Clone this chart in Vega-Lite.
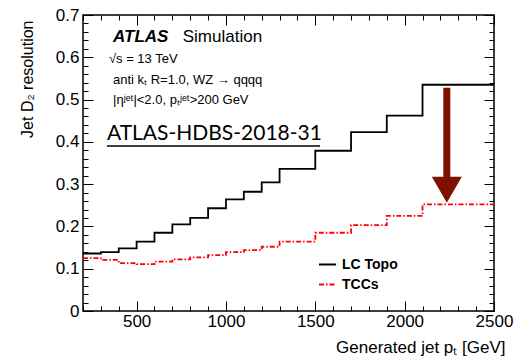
{
  "$schema": "https://vega.github.io/schema/vega-lite/v6.json",
  "width": 411,
  "height": 296,
  "autosize": {"type": "none"},
  "padding": {"left": 83, "top": 15, "right": 20, "bottom": 53},
  "background": "white",
  "config": {
    "view": {"stroke": "black", "strokeWidth": 1.5},
    "font": "Liberation Sans",
    "axis": {"grid": false, "domain": false, "tickColor": "black", "tickWidth": 1, "labelColor": "black", "titleColor": "black", "labelFont": "Liberation Sans", "titleFont": "Liberation Sans", "titleFontWeight": "normal"}
  },
  "datasets": {
    "curves": [
      {"pt": 200, "res": 0.136, "algo": "LC Topo"},
      {"pt": 300, "res": 0.139, "algo": "LC Topo"},
      {"pt": 400, "res": 0.148, "algo": "LC Topo"},
      {"pt": 500, "res": 0.164, "algo": "LC Topo"},
      {"pt": 600, "res": 0.185, "algo": "LC Topo"},
      {"pt": 700, "res": 0.205, "algo": "LC Topo"},
      {"pt": 800, "res": 0.220, "algo": "LC Topo"},
      {"pt": 900, "res": 0.243, "algo": "LC Topo"},
      {"pt": 1000, "res": 0.264, "algo": "LC Topo"},
      {"pt": 1100, "res": 0.282, "algo": "LC Topo"},
      {"pt": 1200, "res": 0.304, "algo": "LC Topo"},
      {"pt": 1300, "res": 0.336, "algo": "LC Topo"},
      {"pt": 1500, "res": 0.379, "algo": "LC Topo"},
      {"pt": 1700, "res": 0.423, "algo": "LC Topo"},
      {"pt": 1900, "res": 0.462, "algo": "LC Topo"},
      {"pt": 2100, "res": 0.535, "algo": "LC Topo"},
      {"pt": 2500, "res": 0.535, "algo": "LC Topo"},
      {"pt": 200, "res": 0.125, "algo": "TCCs"},
      {"pt": 300, "res": 0.121, "algo": "TCCs"},
      {"pt": 400, "res": 0.113, "algo": "TCCs"},
      {"pt": 500, "res": 0.111, "algo": "TCCs"},
      {"pt": 600, "res": 0.117, "algo": "TCCs"},
      {"pt": 700, "res": 0.122, "algo": "TCCs"},
      {"pt": 800, "res": 0.127, "algo": "TCCs"},
      {"pt": 900, "res": 0.132, "algo": "TCCs"},
      {"pt": 1000, "res": 0.139, "algo": "TCCs"},
      {"pt": 1100, "res": 0.144, "algo": "TCCs"},
      {"pt": 1200, "res": 0.152, "algo": "TCCs"},
      {"pt": 1300, "res": 0.164, "algo": "TCCs"},
      {"pt": 1500, "res": 0.185, "algo": "TCCs"},
      {"pt": 1700, "res": 0.203, "algo": "TCCs"},
      {"pt": 1900, "res": 0.225, "algo": "TCCs"},
      {"pt": 2100, "res": 0.252, "algo": "TCCs"},
      {"pt": 2500, "res": 0.252, "algo": "TCCs"}
    ]
  },
  "layer": [
    {
      "data": {"name": "curves"},
      "mark": {"type": "line", "interpolate": "step-after", "strokeWidth": 1.8},
      "encoding": {
        "x": {
          "field": "pt", "type": "quantitative",
          "scale": {"domain": [200, 2500], "nice": false, "zero": false},
          "axis": {
            "orient": "bottom",
            "values": [200, 300, 400, 500, 600, 700, 800, 900, 1000, 1100, 1200, 1300, 1400, 1500, 1600, 1700, 1800, 1900, 2000, 2100, 2200, 2300, 2400, 2500],
            "tickSize": {"condition": {"test": "datum.value % 500 === 0", "value": -10}, "value": -5},
            "labelExpr": "datum.value % 500 === 0 ? format(datum.value, 'd') : ''",
            "labelFlush": false,
            "labelFontSize": 17,
            "labelPadding": 12,
            "title": "Generated jet pₜ [GeV]",
            "titleFontSize": 17,
            "titleAnchor": "end",
            "titleAlign": "right",
            "titleX": 422,
            "titleY": 41,
            "titleBaseline": "alphabetic"
          }
        },
        "y": {
          "field": "res", "type": "quantitative",
          "scale": {"domain": [0, 0.7], "nice": false, "zero": false},
          "axis": {
            "orient": "left",
            "values": [0, 0.02, 0.04, 0.06, 0.08, 0.1, 0.12, 0.14, 0.16, 0.18, 0.2, 0.22, 0.24, 0.26, 0.28, 0.3, 0.32, 0.34, 0.36, 0.38, 0.4, 0.42, 0.44, 0.46, 0.48, 0.5, 0.52, 0.54, 0.56, 0.58, 0.6, 0.62, 0.64, 0.66, 0.68, 0.7],
            "tickSize": {"condition": {"test": "abs(datum.value*10 - round(datum.value*10)) < 0.000001", "value": -10}, "value": -5},
            "labelExpr": "abs(datum.value*10 - round(datum.value*10)) < 0.000001 ? format(datum.value, '.1~f') : ''",
            "labelFlush": false,
            "labelFontSize": 17,
            "labelPadding": 14,
            "title": "Jet D₂ resolution",
            "titleFontSize": 16,
            "titleAngle": -90,
            "titleAlign": "right",
            "titleBaseline": "alphabetic",
            "titleX": -51,
            "titleY": 5
          }
        },
        "color": {
          "field": "algo", "type": "nominal",
          "scale": {"domain": ["LC Topo", "TCCs"], "range": ["#000000", "#ff0000"]},
          "legend": {"orient": "none", "legendX": 235, "legendY": 240, "title": null, "symbolType": "stroke", "symbolSize": 289, "symbolStrokeWidth": 1.8, "labelFont": "Liberation Sans", "labelFontWeight": "bold", "labelFontSize": 14, "labelColor": "black", "rowPadding": 3, "labelOffset": 5, "padding": 0}
        },
        "strokeDash": {
          "field": "algo", "type": "nominal",
          "scale": {"domain": ["LC Topo", "TCCs"], "range": [[1, 0], [5, 2, 1.5, 2]]},
          "legend": {"orient": "none", "legendX": 235, "legendY": 240, "title": null, "symbolType": "stroke", "symbolSize": 289, "symbolStrokeWidth": 1.8, "labelFont": "Liberation Sans", "labelFontWeight": "bold", "labelFontSize": 14, "labelColor": "black", "rowPadding": 3, "labelOffset": 5, "padding": 0}
        }
      }
    },
    {
      "data": {"name": "curves"},
      "mark": {"type": "line", "opacity": 0},
      "encoding": {
        "x": {
          "field": "pt", "type": "quantitative",
          "scale": {"domain": [200, 2500], "nice": false, "zero": false},
          "axis": {
            "orient": "top",
            "values": [200, 300, 400, 500, 600, 700, 800, 900, 1000, 1100, 1200, 1300, 1400, 1500, 1600, 1700, 1800, 1900, 2000, 2100, 2200, 2300, 2400, 2500],
            "tickSize": {"condition": {"test": "datum.value % 500 === 0", "value": -10}, "value": -5},
            "labels": false,
            "title": null
          }
        },
        "y": {
          "field": "res", "type": "quantitative",
          "scale": {"domain": [0, 0.7], "nice": false, "zero": false},
          "axis": {
            "orient": "right",
            "values": [0, 0.02, 0.04, 0.06, 0.08, 0.1, 0.12, 0.14, 0.16, 0.18, 0.2, 0.22, 0.24, 0.26, 0.28, 0.3, 0.32, 0.34, 0.36, 0.38, 0.4, 0.42, 0.44, 0.46, 0.48, 0.5, 0.52, 0.54, 0.56, 0.58, 0.6, 0.62, 0.64, 0.66, 0.68, 0.7],
            "tickSize": {"condition": {"test": "abs(datum.value*10 - round(datum.value*10)) < 0.000001", "value": -10}, "value": -5},
            "labels": false,
            "title": null
          }
        }
      }
    },
    {
      "data": {"values": [{"pt": 2236, "top": 0.528, "bot": 0.305}]},
      "mark": {"type": "rule", "color": "#7e1200", "strokeWidth": 7},
      "encoding": {
        "x": {"field": "pt", "type": "quantitative", "scale": {"domain": [200, 2500], "nice": false, "zero": false}, "axis": null},
        "y": {"field": "top", "type": "quantitative", "scale": {"domain": [0, 0.7], "nice": false, "zero": false}, "axis": null},
        "y2": {"field": "bot"}
      }
    },
    {
      "data": {"values": [{"pt": 2236, "head": 0.287}]},
      "mark": {"type": "point", "shape": "triangle-down", "filled": true, "color": "#7e1200", "opacity": 1, "size": 900},
      "encoding": {
        "x": {"field": "pt", "type": "quantitative", "scale": {"domain": [200, 2500], "nice": false, "zero": false}, "axis": null},
        "y": {"field": "head", "type": "quantitative", "scale": {"domain": [0, 0.7], "nice": false, "zero": false}, "axis": null}
      }
    },
    {
      "data": {"values": [{"pt": 368, "res": 0.637, "label": "ATLAS"}]},
      "mark": {"type": "text", "align": "left", "baseline": "alphabetic", "font": "Liberation Sans", "fontSize": 17, "fontWeight": "bold", "fontStyle": "italic", "color": "black"},
      "encoding": {
        "x": {"field": "pt", "type": "quantitative", "scale": {"domain": [200, 2500], "nice": false, "zero": false}, "axis": null},
        "y": {"field": "res", "type": "quantitative", "scale": {"domain": [0, 0.7], "nice": false, "zero": false}, "axis": null},
        "text": {"field": "label"}
      }
    },
    {
      "data": {"values": [{"pt": 758, "res": 0.637, "label": "Simulation"}]},
      "mark": {"type": "text", "align": "left", "baseline": "alphabetic", "font": "Liberation Sans", "fontSize": 17, "color": "black"},
      "encoding": {
        "x": {"field": "pt", "type": "quantitative", "scale": {"domain": [200, 2500], "nice": false, "zero": false}, "axis": null},
        "y": {"field": "res", "type": "quantitative", "scale": {"domain": [0, 0.7], "nice": false, "zero": false}, "axis": null},
        "text": {"field": "label"}
      }
    },
    {
      "data": {"values": [
        {"pt": 345, "res": 0.586, "label": "√s = 13 TeV"},
        {"pt": 368, "res": 0.538, "label": "anti kₜ R=1.0, WZ → qqqq"},
        {"pt": 368, "res": 0.489, "label": "|ηʲᵉᵗ|<2.0, pₜʲᵉᵗ>200 GeV"}
      ]},
      "mark": {"type": "text", "align": "left", "baseline": "alphabetic", "font": "Liberation Sans", "fontSize": 13, "color": "black"},
      "encoding": {
        "x": {"field": "pt", "type": "quantitative", "scale": {"domain": [200, 2500], "nice": false, "zero": false}, "axis": null},
        "y": {"field": "res", "type": "quantitative", "scale": {"domain": [0, 0.7], "nice": false, "zero": false}, "axis": null},
        "text": {"field": "label"}
      }
    },
    {
      "data": {"values": [{"pt": 334, "res": 0.404, "label": "ATLAS-HDBS-2018-31"}]},
      "mark": {"type": "text", "align": "left", "baseline": "alphabetic", "font": "Lato", "fontSize": 21, "color": "black"},
      "encoding": {
        "x": {"field": "pt", "type": "quantitative", "scale": {"domain": [200, 2500], "nice": false, "zero": false}, "axis": null},
        "y": {"field": "res", "type": "quantitative", "scale": {"domain": [0, 0.7], "nice": false, "zero": false}, "axis": null},
        "text": {"field": "label"}
      }
    },
    {
      "data": {"values": [{"x0": 334, "x1": 1526, "res": 0.390}]},
      "mark": {"type": "rule", "color": "black", "strokeWidth": 1.5},
      "encoding": {
        "x": {"field": "x0", "type": "quantitative", "scale": {"domain": [200, 2500], "nice": false, "zero": false}, "axis": null},
        "x2": {"field": "x1"},
        "y": {"field": "res", "type": "quantitative", "scale": {"domain": [0, 0.7], "nice": false, "zero": false}, "axis": null}
      }
    }
  ],
  "resolve": {"axis": {"x": "independent", "y": "independent"}}
}
